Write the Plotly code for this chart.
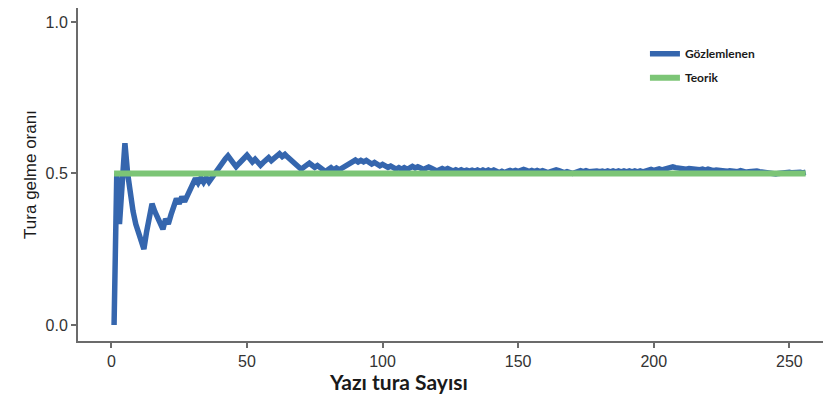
import plotly.graph_objects as go

# cumulative proportion of heads after each toss
n_tosses = list(range(1, 257))
observed = [
    0.0, 0.5, 0.333, 0.5, 0.6, 0.5, 0.429, 0.375, 0.333, 0.3,
    0.273, 0.25, 0.308, 0.357, 0.4, 0.375, 0.353, 0.333, 0.316, 0.35,
    0.333, 0.364, 0.391, 0.417, 0.4, 0.423, 0.407, 0.429, 0.448, 0.467,
    0.484, 0.469, 0.485, 0.471, 0.486, 0.472, 0.486, 0.5, 0.513, 0.525,
    0.537, 0.548, 0.558, 0.545, 0.533, 0.522, 0.532, 0.542, 0.551, 0.56,
    0.549, 0.538, 0.547, 0.537, 0.527, 0.536, 0.544, 0.552, 0.542, 0.55,
    0.557, 0.565, 0.556, 0.563, 0.554, 0.545, 0.537, 0.529, 0.522, 0.514,
    0.521, 0.528, 0.534, 0.527, 0.52, 0.526, 0.519, 0.513, 0.506, 0.513,
    0.519, 0.512, 0.518, 0.512, 0.518, 0.523, 0.529, 0.534, 0.539, 0.544,
    0.538, 0.543, 0.538, 0.543, 0.537, 0.531, 0.536, 0.531, 0.525, 0.53,
    0.525, 0.52, 0.524, 0.519, 0.514, 0.519, 0.514, 0.519, 0.514, 0.518,
    0.523, 0.518, 0.522, 0.518, 0.513, 0.517, 0.521, 0.517, 0.513, 0.508,
    0.512, 0.516, 0.512, 0.516, 0.512, 0.508, 0.512, 0.508, 0.512, 0.508,
    0.511, 0.508, 0.511, 0.507, 0.511, 0.507, 0.511, 0.507, 0.511, 0.507,
    0.511, 0.507, 0.503, 0.507, 0.503, 0.507, 0.51, 0.507, 0.51, 0.507,
    0.51, 0.513, 0.51, 0.506, 0.51, 0.506, 0.51, 0.506, 0.509, 0.506,
    0.503, 0.506, 0.509, 0.512, 0.509, 0.506, 0.503, 0.506, 0.503, 0.5,
    0.503, 0.506, 0.509, 0.506, 0.509, 0.506, 0.508, 0.506, 0.508, 0.506,
    0.508, 0.505, 0.508, 0.505, 0.508, 0.505, 0.508, 0.505, 0.508, 0.505,
    0.508, 0.505, 0.508, 0.505, 0.508, 0.505, 0.508, 0.51, 0.513, 0.51,
    0.512, 0.515, 0.512, 0.515, 0.517, 0.519, 0.522, 0.519, 0.517, 0.519,
    0.517, 0.514, 0.516, 0.514, 0.516, 0.514, 0.512, 0.514, 0.511, 0.514,
    0.511, 0.509, 0.511, 0.509, 0.511, 0.509, 0.507, 0.509, 0.507, 0.509,
    0.506, 0.509, 0.506, 0.504, 0.506, 0.508, 0.506, 0.508, 0.506, 0.504,
    0.506, 0.504, 0.502, 0.5, 0.498, 0.5, 0.502, 0.504, 0.502, 0.504,
    0.502, 0.504, 0.502, 0.504, 0.502, 0.504,
]
theory_x = [1, 256]
theory_y = [0.5, 0.5]

y_ticks = [0.0, 0.5, 1.0]
x_ticks = [0, 50, 100, 150, 200, 250]

fig = go.Figure()
fig.add_trace(go.Scatter(
    x=n_tosses, y=observed, mode="lines", name="Gözlemlenen", legendgroup="obs",
    line=dict(color="#3566ae", width=5.5),
))
fig.add_trace(go.Scatter(
    x=theory_x, y=theory_y, mode="lines", name="Teorik", legendgroup="th",
    line=dict(color="#7cc576", width=6),
))

fig.update_layout(
    width=825, height=413,
    margin=dict(l=78, r=2, t=8, b=72),
    paper_bgcolor="white", plot_bgcolor="white",
    font=dict(family="Liberation Sans, Arial", color="#333333"),
    legend=dict(
        x=0.761, y=0.906, xanchor="left", yanchor="top",
        itemwidth=30, tracegroupgap=5,
        font=dict(family="Lato", size=12, color="#1a1a1a", weight="bold"),
        bgcolor="rgba(0,0,0,0)",
    ),
    annotations=[dict(
        text="<b>Yazı tura Sayısı</b>", xref="paper", yref="paper",
        x=0.43, y=-0.077, xanchor="center", yanchor="top", showarrow=False,
        font=dict(family="Lato", size=21, color="#1a1a1a"),
    )],
)
fig.update_xaxes(
    range=[-12.3, 262.4], tickvals=x_ticks, showgrid=False, zeroline=False,
    showline=True, linecolor="#6b6b6b", linewidth=2, automargin=False,
    ticks="outside", ticklen=5, tickcolor="#6b6b6b", tickwidth=1.5,
    tickfont=dict(size=16, color="#333333"),
)
fig.update_yaxes(
    range=[-0.053, 1.046], tickvals=y_ticks, tickformat=".1f",
    showgrid=False, zeroline=False, automargin=False,
    showline=True, linecolor="#6b6b6b", linewidth=2,
    ticks="outside", ticklen=5, tickcolor="#6b6b6b", tickwidth=1.5,
    tickfont=dict(size=16, color="#333333"),
    title=dict(text="Tura gelme oranı", font=dict(size=17, color="#1a1a1a"), standoff=5),
)

# the page's default 8px body margin would shift the chart
fig.write_html("out.html", config={"displayModeBar": False},
               post_script="document.body.style.margin='0';")
